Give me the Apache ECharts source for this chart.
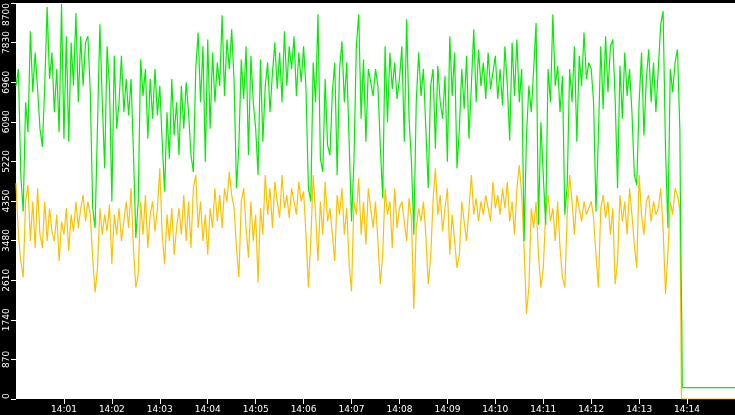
<!DOCTYPE html>
<html>
<head>
<meta charset="utf-8">
<style>
  html, body { margin: 0; padding: 0; background: #000; }
  #chart { width: 735px; height: 415px; }
</style>
<script src="https://cdn.jsdelivr.net/npm/echarts@6/dist/echarts.min.js"></script>
</head>
<body>
<div id="chart"></div>
<script>
// samples every 3 s starting at 14:00:00 (x is seconds after 14:00)
const sampleStep = 3;

const green1400 = [
  6880, 7250, 4920, 4120, 6520, 5860, 8080, 6740, 7610, 6810,
  5940, 5540, 6880, 8610, 7030, 7610, 6300, 7250, 5860, 8680,
  5720, 7970, 5650, 7830, 6880, 8480, 6520, 7970, 6880, 7830,
  7970, 6740, 4190, 3760, 6010, 8230, 6520, 5070, 7750, 6880,
  4340, 7540, 5940, 6520, 7540, 6300, 7030, 6230, 7030, 5430,
  3540, 4340, 7460, 6660, 7250, 5720, 7030, 6160, 7250, 6230
];
const green1403 = [
  6880, 5650, 4560, 6300, 5280, 7030, 5790, 6520, 5360, 6880,
  5940, 6960, 6300, 5360, 4990, 7250, 8050, 6520, 7750, 5210,
  7900, 5940, 7610, 6520, 7390, 6880, 8430, 6660, 7900, 7250,
  8120, 6960, 4630, 5570, 7460, 6590, 7750, 5360, 7540, 6520,
  5940, 4920, 7460, 5650, 6880, 7390, 6300, 7170, 7830, 6810,
  7610, 6520, 8080, 6880, 7750, 7250, 7970, 6660, 7610, 6960
];
const green1406 = [
  7750, 6810, 4630, 4340, 7390, 6520, 8450, 5280, 4990, 7030,
  5570, 5360, 6740, 7390, 4920, 7250, 7860, 6520, 7390, 5650,
  3900, 5210, 7750, 8450, 6160, 7460, 5650, 7250, 6960, 6660,
  7250, 6880, 5570, 4410, 7750, 6080, 7610, 6810, 7390, 6590,
  7030, 7750, 5650, 8340, 6160, 5210, 3610, 6520, 7610, 6660,
  7250, 5940, 4630, 6880, 7250, 5500, 7320, 6520, 6160, 7100
];
const green1409 = [
  5210, 7970, 6660, 7610, 5070, 5940, 7250, 6370, 7540, 5720,
  6880, 8120, 6520, 7680, 6880, 7390, 6590, 7610, 6810, 7170,
  7540, 6590, 7250, 6450, 7750, 6880, 5680, 7830, 6660, 7900,
  6520, 7250, 3470, 5790, 6880, 6300, 7250, 8260, 3830, 6080,
  4920, 3830, 7250, 6520, 8450, 6880, 7320, 6300, 7100, 4050,
  4700, 7250, 6520, 7750, 5650, 7540, 6880, 8050, 7030, 7390
];
const green1412 = [
  7250, 6520, 4120, 5790, 7750, 6370, 7970, 6740, 7750, 7900,
  6590, 4630, 7320, 6160, 7610, 6660, 7250, 6300, 4920, 4700,
  6520, 7610, 5790, 7030, 7680, 6520, 7390, 6300, 7250, 8230,
  8520, 5500, 3760, 7250, 6740, 7390, 7680, 5900
];
// after the feed stops: [seconds, value]
const greenTail = [[832, 3540], [833, 2230], [833.5, 1500], [834, 250], [900, 250]];

const yellow1400 = [
  4740, 3610, 3030, 2670, 4340, 4700, 3470, 4340, 3320, 4630,
  3610, 3320, 4340, 3470, 4190, 3680, 3470, 4050, 3030, 3900,
  3610, 4190, 3250, 4050, 3680, 4340, 3760, 4190, 4480, 3900,
  4340, 4050, 3100, 2340, 2880, 4190, 3610, 4050, 3680, 4270,
  2960, 4050, 3610, 4190, 3470, 3900, 4340, 3760, 4630, 3320,
  2450, 2740, 4340, 3610, 4480, 3320, 4050, 4340, 3680, 4190
];
const yellow1403 = [
  5070, 3610, 2960, 4050, 3470, 4190, 3170, 3760, 4190, 3610,
  4480, 3470, 4340, 3320, 4630, 4920, 3760, 4340, 3470, 4050,
  3170, 4190, 3760, 4630, 3900, 4480, 3760, 4630, 4340, 4990,
  4480, 4190, 3320, 2670, 4340, 4630, 3760, 3100, 4340, 3470,
  4050, 2560, 4190, 3610, 4920, 4050, 4630, 3760, 4770, 4340,
  3980, 4920, 4190, 4480, 3980, 4630, 4340, 4050, 4770, 4340
];
const yellow1406 = [
  4560, 3610, 2450, 3470, 4920, 4050, 3030, 4340, 3610, 4770,
  3900, 4190, 3610, 3030, 4480, 4050, 4630, 3610, 4190, 2960,
  2370, 4340, 4050, 4850, 3610, 4340, 3390, 4630, 4190, 3760,
  4340, 3470, 2520, 3170, 4630, 4050, 4340, 3320, 4630, 3760,
  4190, 4340, 3900, 3470, 4410, 3980, 1980, 3760, 4190, 3900,
  4340, 3610, 2520, 3100, 4340, 5070, 4050, 4480, 3680, 4190
];
const yellow1409 = [
  4630, 3170, 4050, 3470, 2880, 3170, 4340, 3900, 3470, 4190,
  4920, 4050, 4410, 3900, 4340, 4050, 4480, 4190, 3900, 4770,
  4190, 4480, 4050, 4630, 4190, 4770, 3900, 4340, 3610, 4630,
  5140, 4480, 3320, 1870, 2450, 4190, 3760, 4340, 3170, 2450,
  2880, 4050, 4480, 3900, 4190, 3470, 4340, 3320, 2670, 2450,
  4050, 4920, 4340, 3610, 4480, 4190, 3900, 4340, 4050, 4190
];
const yellow1412 = [
  4340, 3980, 3170, 2450, 4190, 4480, 3980, 4340, 3610, 4190,
  2520, 3030, 4480, 3900, 4340, 3610, 4630, 4050, 3390, 2880,
  4920, 4050, 3610, 4340, 4480, 3900, 4340, 4050, 4190, 4630,
  3760, 2300, 3170, 4340, 4050, 4630, 4480, 4160
];
const yellowTail = [[833, 0], [900, 0]];

const xTickLabels = ['14:01', '14:02', '14:03', '14:04', '14:05', '14:06', '14:07',
  '14:08', '14:09', '14:10', '14:11', '14:12', '14:13', '14:14'];
const yMax = 8700;
const yStep = 870;

function toPoints(values, tail) {
  return values.map((v, i) => [i * sampleStep, v]).concat(tail);
}

const greenPoints = toPoints([].concat(green1400, green1403, green1406, green1409, green1412), greenTail);
const yellowPoints = toPoints([].concat(yellow1400, yellow1403, yellow1406, yellow1409, yellow1412), yellowTail);

// '14:MM' -> seconds after 14:00
const xTickSeconds = xTickLabels.map(s => (parseInt(s.split(':')[1], 10)) * 60);
const fmtTime = v => '14:' + String(Math.round(v / 60)).padStart(2, '0');

const myChart = echarts.init(document.getElementById('chart'), null, { renderer: 'canvas' });
myChart.setOption({
  animation: false,
  backgroundColor: '#000',
  grid: { left: 16, right: 0, top: 0, bottom: 16, show: true, backgroundColor: '#fff', borderWidth: 0 },
  xAxis: {
    type: 'value',
    min: 0,
    max: 900,
    axisLine: { show: false },
    splitLine: { show: false },
    axisTick: { length: 5, lineStyle: { color: '#fff', width: 1 }, customValues: xTickSeconds },
    axisLabel: {
      customValues: xTickSeconds,
      color: '#fff',
      fontFamily: 'DejaVu Sans',
      fontSize: 9,
      margin: 6,
      formatter: fmtTime,
    },
  },
  yAxis: {
    type: 'value',
    min: 0,
    max: yMax,
    interval: yStep,
    axisLine: { show: false },
    splitLine: { show: false },
    axisTick: { length: 5, lineStyle: { color: '#fff', width: 1 } },
    axisLabel: {
      rotate: 90,
      color: '#fff',
      fontFamily: 'DejaVu Sans',
      fontSize: 9,
      margin: 5,
      alignMinLabel: 'left',
      alignMaxLabel: 'right',
      formatter: v => String(v),
    },
  },
  series: [
    {
      type: 'line',
      data: yellowPoints,
      showSymbol: false,
      lineStyle: { width: 1.2, color: '#ffc000' },
      itemStyle: { color: '#ffc000' },
    },
    {
      type: 'line',
      data: greenPoints,
      showSymbol: false,
      lineStyle: { width: 1.2, color: '#00ee00' },
      itemStyle: { color: '#00ee00' },
    },
  ],
});
</script>
</body>
</html>
